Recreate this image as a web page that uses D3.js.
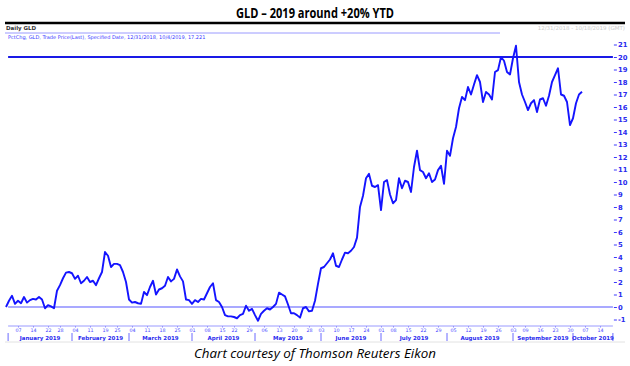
<!DOCTYPE html>
<html>
<head>
<meta charset="utf-8">
<script src="https://cdn.jsdelivr.net/npm/d3@7"></script>
<style>
  body { margin: 0; background: #fff; }
  svg { display: block; }
</style>
</head>
<body>
<div id="chart"></div>
<script>
// % change of GLD since 12/31/2018, one value per trading day (index 0 = 12/31/2018)
let pctChg = [
  0, 0.5, 0.9, 0.25, 0.5, 0.3, 0.8, 0.35, 0.55, 0.65,
  0.6, 0.8, 0.6, -0.1, 0.15, 0.05, -0.1, 1.3, 1.75, 2.3,
  2.75, 2.8, 2.7, 2.25, 2.5, 1.9, 2.1, 2.4, 2.0, 2.1,
  1.75, 2.3, 2.8, 4.4, 4.1, 3.2, 3.45, 3.45, 3.35, 2.8,
  2.0, 0.6, 0.35, 0.4, 0.3, 0.25, 1.2, 0.95, 1.6, 2.1,
  1.0, 1.4, 1.5, 1.7, 2.4, 2.05, 2.25, 3.0, 2.45, 2.05,
  0.6, 0.55, 0.25, 0.55, 0.4, 0.65, 0.6, 1.1, 1.6, 1.9,
  0.55, 0.4, 0.0, -0.65, -0.75, -0.75, -0.8, -0.9, -0.65, -0.55,
  0.1, -0.3, -0.15, -0.65, -1.1, -0.55, -0.3, -0.1, -0.2, 0.0,
  0.25, 1.15, 1.0, 0.85, 0.2, -0.5, -0.5, -0.65, -0.85, -0.1,
  0.0, -0.35, -0.3, 0.5, 1.85, 3.1, 3.2, 3.5, 3.8, 4.3,
  3.3, 3.2, 3.8, 4.35, 4.3, 4.5, 4.8, 5.55, 8.0, 8.9,
  10.3, 10.65, 9.7, 9.6, 9.75, 7.75, 10.0, 10.15, 9.0, 8.3,
  8.55, 10.3, 9.5, 10.1, 10.0, 9.2, 11.2, 12.5, 10.95, 10.8,
  10.3, 10.7, 10.0, 10.2, 10.95, 11.3, 9.85, 12.5, 12.1, 13.5,
  14.4, 15.9, 16.8, 16.55, 17.6, 17.0, 17.8, 18.55, 18.0, 16.4,
  17.2, 17.0, 16.6, 18.8, 18.95, 20.0, 19.7, 18.8, 18.6, 19.9,
  20.9, 18.0, 17.0, 16.4, 15.75, 16.3, 16.55, 15.6, 16.6, 16.7,
  16.1, 16.9, 18.0, 18.55, 19.1, 17.0, 16.9, 16.4, 14.55, 15.1,
  16.3, 17.0, 17.221
];

// weekly ticks: trading-day index and label
let tickDays = [4, 9, 14, 18, 23, 28, 33, 37, 42, 47, 52, 57, 62, 67, 72, 76, 81,
  86, 91, 96, 101, 105, 110, 115, 120, 125, 129, 134, 139, 144, 149, 154, 159, 164,
  169, 173, 178, 183, 188, 193, 198];
let tickLabels = ["07", "14", "22", "28", "04", "11", "19", "25", "04", "11", "18", "25",
  "01", "08", "15", "22", "29", "06", "13", "20", "28", "03", "10", "17", "24",
  "01", "08", "15", "22", "29", "05", "12", "19", "26", "03", "09", "16", "23", "30",
  "07", "14"];

let monthNames = ["January 2019", "February 2019", "March 2019", "April 2019", "May 2019",
  "June 2019", "July 2019", "August 2019", "September 2019", "October 2019"];
let monthStarts = [0.7, 22, 41, 62, 83, 105, 125, 147, 169, 189];
let axisEnd = 202.3;

let yTicks = d3.range(-1, 22);
let targetLevel = 20;

let title = "GLD \u2013 2019 around +20% YTD";
let caption = "Chart courtesy of Thomson Reuters Eikon";
let subTitle = "PctChg, GLD, Trade Price(Last), Specified Date, 12/31/2018, 10/4/2019, 17.221";

function getConfig() {
  let width = 630;
  let height = 366;
  let container = d3.select("#chart")
    .append("svg")
    .attr("width", width)
    .attr("height", height);
  return {width, height, container};
}

function getScales() {
  //trading days -> px, value -> px
  let xScale = d3.scaleLinear().domain([0, 198]).range([6, 600]);
  let yScale = d3.scaleLinear().domain([0, 20]).range([307, 57]);
  return {xScale, yScale};
}

function drawHeader(config) {
  let {container, width} = config;
  container.append("text")
    .attr("x", width / 2)
    .attr("y", 18)
    .attr("text-anchor", "middle")
    .attr("textLength", 158)
    .attr("lengthAdjust", "spacingAndGlyphs")
    .style("font", "bold 14.5px 'Open Sans', sans-serif")
    .text(title);

  container.append("line")
    .attr("x1", 5).attr("x2", 625)
    .attr("y1", 23).attr("y2", 23)
    .attr("stroke", "#000").attr("stroke-width", 2.5);

  container.append("text")
    .attr("x", 6).attr("y", 30)
    .style("font", "bold 5.5px 'DejaVu Sans', sans-serif")
    .attr("fill", "#333")
    .text("Daily GLD");

  container.append("text")
    .attr("x", 625).attr("y", 30)
    .attr("text-anchor", "end")
    .style("font", "5.5px 'DejaVu Sans', sans-serif")
    .attr("fill", "#ccc")
    .text("12/31/2018 - 10/18/2019 (GMT)");

  container.append("line")
    .attr("x1", 5).attr("x2", 500)
    .attr("y1", 33).attr("y2", 33)
    .attr("stroke", "#9a9aff").attr("stroke-width", 1);

  container.append("text")
    .attr("x", 8).attr("y", 39)
    .style("font", "5px 'DejaVu Sans', sans-serif")
    .attr("fill", "#3a3aff")
    .text(subTitle);
}

function drawAxes(config, scales) {
  let {container} = config;
  let {xScale, yScale} = scales;
  let x0 = xScale(monthStarts[0]);
  let x1 = xScale(axisEnd);

  // y axis on the right
  let yAxis = container.append("g")
    .attr("transform", "translate(" + (x1 + 1) + ",0)")
    .call(d3.axisRight(yScale).tickValues(yTicks).tickSize(3).tickPadding(1).tickFormat(d => d));
  yAxis.select(".domain").remove();
  yAxis.selectAll("line").attr("stroke", "#3a3aff");
  yAxis.selectAll("text")
    .attr("fill", "#2a2aee")
    .style("font", "bold 6.8px 'DejaVu Sans', sans-serif");

  // x axis, weekly ticks
  let xAxis = container.append("g")
    .attr("transform", "translate(0,326)")
    .call(d3.axisBottom(xScale).tickValues(tickDays).tickSize(1.5).tickPadding(1)
      .tickFormat((d, i) => tickLabels[i]));
  xAxis.select(".domain").remove();
  xAxis.selectAll("line").attr("stroke", "#8c8cff");
  xAxis.selectAll("text")
    .attr("fill", "#4a4aff")
    .style("font", "4.8px 'DejaVu Sans', sans-serif");

  container.append("line")
    .attr("x1", x0).attr("x2", x1)
    .attr("y1", 326).attr("y2", 326)
    .attr("stroke", "#9a9aff").attr("stroke-width", 1);

  // month bands
  let bounds = monthStarts.concat([axisEnd]);
  container.selectAll(".monthSep")
    .data(bounds)
    .enter()
    .append("line")
      .attr("class", "monthSep")
      .attr("x1", d => xScale(d)).attr("x2", d => xScale(d))
      .attr("y1", 333).attr("y2", 341)
      .attr("stroke", "#6a6aff").attr("stroke-width", 1);

  container.selectAll(".monthLabel")
    .data(monthNames)
    .enter()
    .append("text")
      .attr("class", "monthLabel")
      .attr("x", (d, i) => (xScale(bounds[i]) + xScale(bounds[i + 1])) / 2)
      .attr("y", 340)
      .attr("text-anchor", "middle")
      .attr("fill", "#2a2aee")
      .style("font", "bold 5.5px 'DejaVu Sans', sans-serif")
      .text(d => d);

  container.append("line")
    .attr("x1", 5).attr("x2", 625)
    .attr("y1", 342).attr("y2", 342)
    .attr("stroke", "#e2e2e2").attr("stroke-width", 1);
}

function drawLines(config, scales) {
  let {container} = config;
  let {xScale, yScale} = scales;
  let x0 = xScale(monthStarts[0]);
  let x1 = xScale(axisEnd);

  // zero line
  container.append("line")
    .attr("x1", x0).attr("x2", x1)
    .attr("y1", yScale(0)).attr("y2", yScale(0))
    .attr("stroke", "#8c8cff").attr("stroke-width", 1.5);

  // +20% level
  container.append("line")
    .attr("x1", x0).attr("x2", x1)
    .attr("y1", yScale(targetLevel)).attr("y2", yScale(targetLevel))
    .attr("stroke", "#1a1ae6").attr("stroke-width", 2);

  let line = d3.line()
    .x((d, i) => xScale(i))
    .y(d => yScale(d));

  container.append("path")
    .datum(pctChg)
    .attr("d", line)
    .attr("fill", "none")
    .attr("stroke", "#1414ff")
    .attr("stroke-width", 1.9)
    .attr("stroke-linejoin", "round");
}

function drawCaption(config) {
  let {container, width} = config;
  container.append("text")
    .attr("x", width / 2)
    .attr("y", 358)
    .attr("text-anchor", "middle")
    .attr("textLength", 242)
    .attr("lengthAdjust", "spacingAndGlyphs")
    .style("font", "italic 13px 'Open Sans', sans-serif")
    .text(caption);
}

let config = getConfig();
let scales = getScales();
drawHeader(config);
drawAxes(config, scales);
drawLines(config, scales);
drawCaption(config);
</script>
</body>
</html>
